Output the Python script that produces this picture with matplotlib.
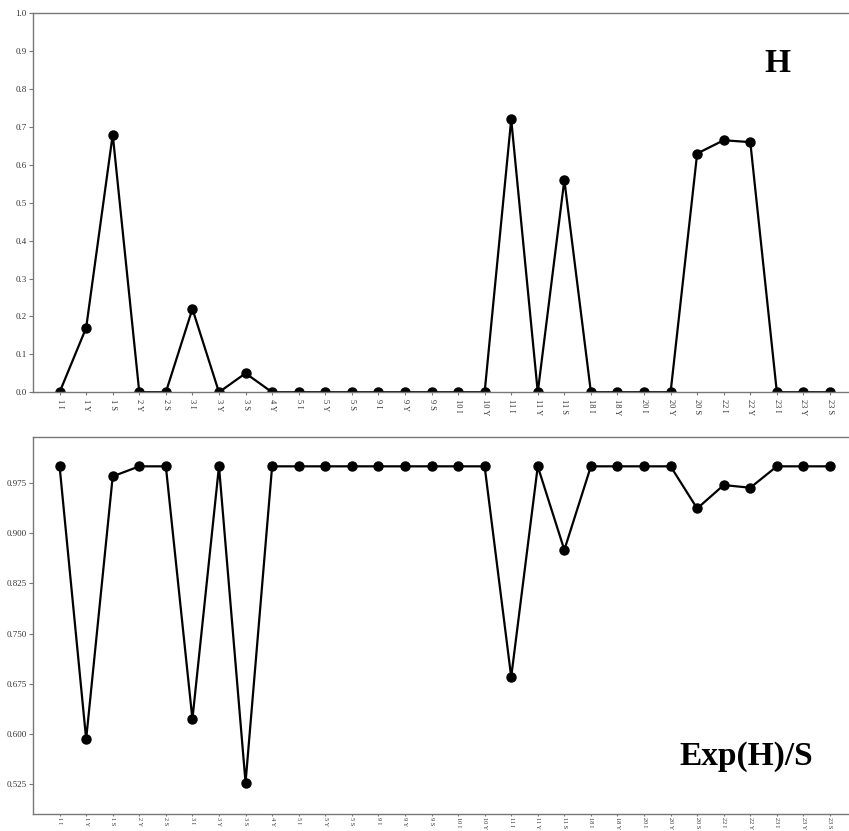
import numpy as np
import matplotlib.pyplot as plt

etiquetas = ['1 I', '1 Y', '1 S', '2 Y', '2 S', '3 I', '3 Y', '3 S', '4 Y',
             '5 I', '5 Y', '5 S', '9 I', '9 Y', '9 S', '10 I', '10 Y',
             '11 I', '11 Y', '11 S', '18 I', '18 Y', '20 I', '20 Y', '20 S',
             '22 I', '22 Y', '23 I', '23 Y', '23 S']

# H
valores_h = [0.0, 0.17, 0.68, 0.0, 0.0, 0.22, 0.0, 0.05, 0.0,
             0.0, 0.0, 0.0, 0.0, 0.0, 0.0, 0.0, 0.0,
             0.72, 0.0, 0.56, 0.0, 0.0, 0.0, 0.0, 0.63,
             0.665, 0.66, 0.0, 0.0, 0.0]

# Exp(H)/S
valores_exp = [1.0, 0.592, 0.985, 1.0, 1.0, 0.622, 1.0, 0.527, 1.0,
               1.0, 1.0, 1.0, 1.0, 1.0, 1.0, 1.0, 1.0,
               0.685, 1.0, 0.875, 1.0, 1.0, 1.0, 1.0, 0.937,
               0.972, 0.968, 1.0, 1.0, 1.0]

plt.rcParams['font.family'] = ['Liberation Serif', 'DejaVu Serif']

fig = plt.figure(figsize=(8.49, 8.31), dpi=100)
ax1 = fig.add_axes([0.0389, 0.528, 0.970, 0.456])
ax2 = fig.add_axes([0.0389, 0.0205, 0.970, 0.4535])

x = np.arange(len(etiquetas))

for ax, vals in [(ax1, valores_h), (ax2, valores_exp)]:
    ax.plot(x, vals, color='black', lw=1.6, marker='o', markersize=6.5)
    ax.set_xlim(-1, 30)
    ax.set_xticks(x)
    ax.tick_params(axis='y', length=3, color='#777777', labelsize=6.5,
                   labelcolor='#333333', pad=1.5)
    for s in ax.spines.values():
        s.set_color('#777777')
        s.set_linewidth(1.0)

ax1.set_xticklabels(etiquetas, rotation=-90, fontsize=6, color='#333333')
ax1.tick_params(axis='x', length=2, color='#777777', pad=3)

# las etiquetas de abajo van casi pegadas al borde
ax2.set_xticklabels(etiquetas, rotation=-90, fontsize=4.6, color='#333333')
ax2.tick_params(axis='x', length=1.5, color='#777777', pad=1)

ax1.set_ylim(0, 1.0)
ax1.set_yticks(np.arange(0, 1.01, 0.1))
ax1.set_yticklabels([f'{v:.1f}' for v in np.arange(0, 1.01, 0.1)])

ax2.set_ylim(0.4802, 1.0437)
ticks2 = [0.525, 0.600, 0.675, 0.750, 0.825, 0.900, 0.975]
ax2.set_yticks(ticks2)
ax2.set_yticklabels([f'{v:.3f}' for v in ticks2])

fig.text(777 / 849, 1 - 63 / 831, 'H', fontsize=24, fontweight='bold',
         ha='center', va='center')
fig.text(813 / 849, 1 - 757 / 831, 'Exp(H)/S', fontsize=24, fontweight='bold',
         ha='right', va='center')

fig.savefig('out.png', dpi=100)
